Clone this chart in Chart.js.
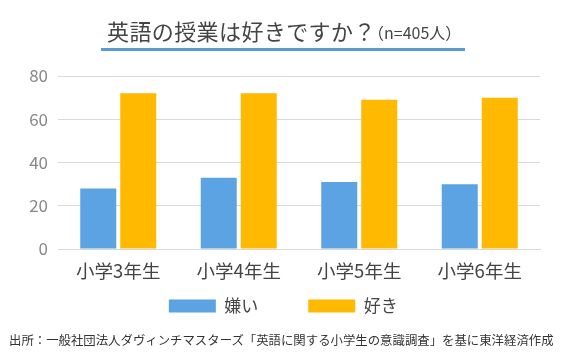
<!DOCTYPE html>
<html><head><meta charset="utf-8">
<script src="https://cdn.jsdelivr.net/npm/chart.js@4/dist/chart.umd.min.js"></script>
<style>
html,body{margin:0;padding:0;background:#fff;width:570px;height:357px;overflow:hidden;}
#wrap{position:relative;width:570px;height:357px;}
#c{position:absolute;left:0;top:0;}
#title{position:absolute;left:101px;top:15px;width:364px;height:33px;border-bottom:3px solid #5b9bd5;font-family:"Noto Sans CJK JP";color:#444;white-space:nowrap;line-height:33px;}
#title .main{position:absolute;left:6px;top:-1px;font-size:22px;letter-spacing:0.4px;}
#title .sub{position:absolute;left:267px;top:1px;font-size:16px;}
#foot{position:absolute;left:9px;top:331px;font-family:"Noto Sans CJK JP";font-size:12.4px;color:#333;white-space:nowrap;}
</style></head>
<body><div id="wrap">
<canvas id="c" width="570" height="357"></canvas>
<div id="title"><span class="main">英語の授業は好きですか？</span><span class="sub">（n=405人）</span></div>
<div id="foot">出所：一般社団法人ダヴィンチマスターズ「英語に関する小学生の意識調査」を基に東洋経済作成</div>
</div>
<script>
const categories = ['小学3年生','小学4年生','小学5年生','小学6年生'];
const seriesNames = ['嫌い','好き'];
const dislikeValues = [28,33,31,30];
const likeValues = [72,72,69,70];
const yTickValues = [0,20,40,60,80];
const seriesColors = ['#5ba3e2','#ffb900'];

const FONT = '"Noto Sans CJK JP", "Noto Sans", sans-serif';

new Chart(document.getElementById('c'), {
  type: 'bar',
  data: {
    labels: categories,
    datasets: [
      {label: seriesNames[0], data: dislikeValues, backgroundColor: seriesColors[0], categoryPercentage: 0.664, barPercentage: 0.9},
      {label: seriesNames[1], data: likeValues, backgroundColor: seriesColors[1], categoryPercentage: 0.664, barPercentage: 0.9}
    ]
  },
  options: {
    responsive: false,
    animation: false,
    devicePixelRatio: 1,
    layout: {padding: {top: 76, left: 0, right: 0, bottom: 32.5}},
    plugins: {
      title: {display: false},
      tooltip: {enabled: false},
      legend: {
        display: true,
        position: 'bottom',
        labels: {
          boxWidth: 47, boxHeight: 13, padding: 12.5,
          color: '#444',
          font: {family: FONT, size: 17},
          generateLabels: (chart) => {
            const items = Chart.defaults.plugins.legend.labels.generateLabels(chart);
            items.forEach((it, i) => {
              it.text = it.text + (i === 0 ? '\u3000\u3000\u2009' : '\u2009');
              it.lineWidth = 0;
            });
            return items;
          }
        }
      }
    },
    scales: {
      x: {
        grid: {display: false, drawTicks: false},
        border: {display: true, color: '#d9d9d9'},
        ticks: {color: '#444', font: {family: FONT, size: 18.5}, padding: 11},
        afterFit: (s) => { s.height = 36; }
      },
      y: {
        min: 0, max: 80,
        afterBuildTicks: (s) => { s.ticks = yTickValues.map(v => ({value: v})); },
        grid: {color: '#d9d9d9', drawTicks: false},
        border: {display: false},
        ticks: {color: '#888', font: {family: FONT, size: 17}, padding: 10},
        afterFit: (s) => { s.width = 58; }
      },
      y2: {
        position: 'right',
        display: true,
        grid: {display: false, drawTicks: false},
        border: {display: false},
        ticks: {display: false},
        afterFit: (s) => { s.width = 30; }
      }
    }
  }
});
</script>
</body></html>
